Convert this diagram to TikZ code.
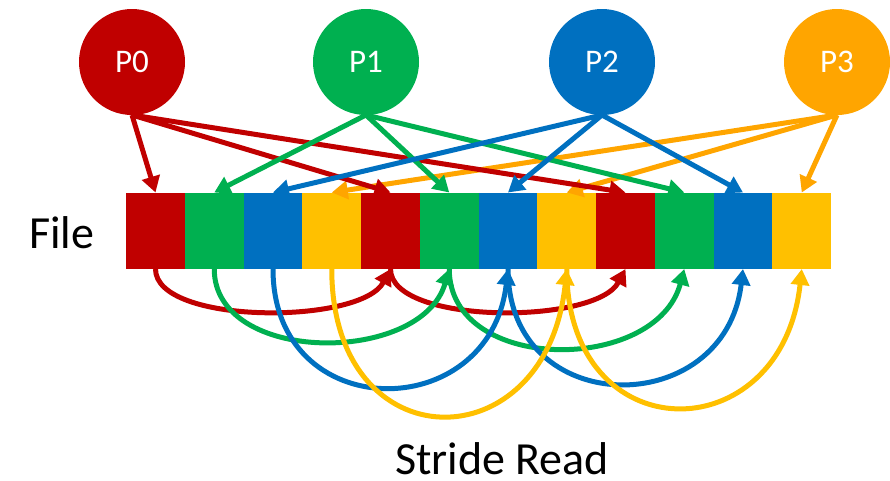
\documentclass[tikz,border=0pt]{standalone}
\usepackage{fontspec}
\setmainfont{Carlito}
\usetikzlibrary{arrows.meta}
\definecolor{cred}{HTML}{C00000}
\definecolor{cgreen}{HTML}{00B050}
\definecolor{cblue}{HTML}{0070C0}
\definecolor{cyellow}{HTML}{FFC000}
\definecolor{corange}{HTML}{FFA500}
\begin{document}
\begin{tikzpicture}[x=1pt,y=-1pt,
  cell/.style={minimum width=59pt, minimum height=76.5pt, inner sep=0pt,
    outer sep=0pt, anchor=north west},
  proc/.style={circle, minimum size=106pt, inner sep=0pt, outer sep=0pt,
    text=white, font=\fontsize{33}{36}\selectfont},
  feed/.style={line width=5pt, -{Triangle[width=18pt,length=16pt]}},
  hop/.style={line width=5pt, -{Triangle[width=18pt,length=16pt]}},
  caption/.style={font=\fontsize{46}{50}\selectfont, inner sep=0pt}
]
\useasboundingbox (0,0) rectangle (890,480);

% file blocks, striped over the four processes
\foreach \i/\c in {0/cred,1/cgreen,2/cblue,3/cyellow,
                   4/cred,5/cgreen,6/cblue,7/cyellow,
                   8/cred,9/cgreen,10/cblue,11/cyellow}
  \node[cell, fill=\c] (b\i) at ({126+58.75*\i},192.5) {};

% processes
\node[proc, fill=cred]    (p0) at (132,62) {P0};
\node[proc, fill=cgreen]  (p1) at (366,62) {P1};
\node[proc, fill=cblue]   (p2) at (602,62) {P2};
\node[proc, fill=corange] (p3) at (837,62) {P3};

% each process reads every fourth block
\foreach \j in {3,7,11} \draw[feed, corange] (p3.south) -- (b\j.north);
\foreach \j in {0,4,8}  \draw[feed, cred]    (p0.south) -- (b\j.north);
\foreach \j in {1,5,9}  \draw[feed, cgreen]  (p1.south) -- (b\j.north);
\foreach \j in {2,6,10} \draw[feed, cblue]   (p2.south) -- (b\j.north);

% stride hops between blocks of the same process
\draw[hop, cred] (b0.south) .. controls +(0,56) and +(-30,56) .. (b4.south);
\draw[hop, cred] (b4.south) .. controls +(0,56) and +(-30,56) .. (b8.south);
\draw[hop, cgreen] (b1.south) .. controls +(0,96) and +(-28,96) .. (b5.south);
\draw[hop, cgreen] (b5.south) .. controls +(0,105) and +(-28,105) .. (b9.south);
\draw[hop, cblue] (b2.south) .. controls +(0,157) and +(-18,157) .. (b6.south);
\draw[hop, cblue] (b6.south) .. controls +(0,152) and +(-18,152) .. (b10.south);
\draw[hop, cyellow] (b3.south) .. controls +(0,195) and +(-20,195) .. (b7.south);
\draw[hop, cyellow] (b7.south) .. controls +(0,184) and +(-20,184) .. (b11.south);

% labels
\node[caption, anchor=base west] (filelbl) at (29,248) {File};
\node[caption, anchor=base] (stridelbl) at (502,474) {Stride Read};
\end{tikzpicture}
\end{document}
